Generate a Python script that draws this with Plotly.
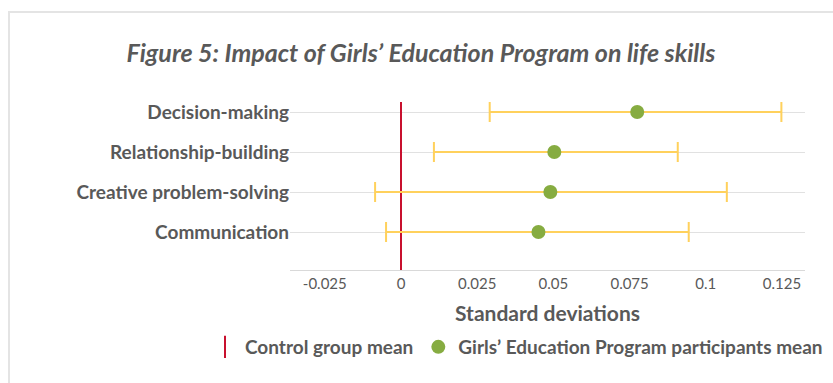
import plotly.graph_objects as go

skills = ["Communication", "Creative problem-solving", "Relationship-building", "Decision-making"]
means = [0.0451, 0.0490, 0.0503, 0.0775]
lower = [-0.0049, -0.0085, 0.0108, 0.0291]
upper = [0.0944, 0.1069, 0.0908, 0.1248]
control_mean = 0.0
tick_vals = [-0.025, 0, 0.025, 0.05, 0.075, 0.1, 0.125]
tick_text = ["-0.025", "0", "0.025", "0.05", "0.075", "0.1", "0.125"]

TEXT = "#595959"
FONT = "Lato"
GREEN = "#86AC41"
GOLD = "#FFD15C"
RED = "#C8102E"

fig = go.Figure()

ypos = list(range(len(skills)))
Y0, Y1 = -0.95, 3.25

# control group mean line
fig.add_trace(go.Scatter(
    x=[control_mean, control_mean], y=[Y0, Y1], mode="lines",
    line=dict(color=RED, width=2), showlegend=False, hoverinfo="skip"))

# participants with CI
fig.add_trace(go.Scatter(
    x=means, y=ypos, mode="markers",
    marker=dict(color=GREEN, size=14),
    error_x=dict(type="data", symmetric=False,
                 array=[u - m for u, m in zip(upper, means)],
                 arrayminus=[m - l for m, l in zip(means, lower)],
                 color=GOLD, thickness=2, width=10),
    showlegend=False))

# legend entries
fig.add_trace(go.Scatter(
    x=[None], y=[None], mode="markers", name="<b>Control group mean</b>",
    marker=dict(symbol="line-ns-open", size=20, line=dict(color=RED, width=2), color=RED)))
fig.add_trace(go.Scatter(
    x=[None], y=[None], mode="markers", name="<b>Girls\u2019 Education Program participants mean</b>",
    marker=dict(color=GREEN, size=14)))

L, R, T, B = 290, 805, 102, 270
W, H = 833, 383
pw, ph = R - L, B - T

fig.update_layout(
    width=W, height=H,
    margin=dict(l=L, r=W - R, t=T, b=H - B, pad=0),
    paper_bgcolor="white", plot_bgcolor="white",
    font=dict(family=FONT, color=TEXT, size=15),
    title=dict(text="<b><i>Figure 5: Impact of Girls\u2019 Education Program on life skills</i></b>",
               x=421 / W, xanchor="center", xref="container",
               y=1 - 53 / H, yanchor="middle", yref="container",
               font=dict(size=25, color=TEXT, family=FONT)),
    xaxis=dict(range=[(L - 401) / 3048, (R - 401) / 3048],
               tickvals=tick_vals, ticktext=tick_text,
               showgrid=False, zeroline=False,
               showline=True, linecolor="#d9d9d9", linewidth=1,
               ticks="", tickfont=dict(size=15, color=TEXT),
               title=dict(text="<b>Standard deviations</b>", font=dict(size=21, color=TEXT), standoff=15)),
    yaxis=dict(range=[Y0, Y1], tickvals=ypos, ticktext=["<b>%s</b>" % s for s in skills],
               showgrid=True, gridcolor="#e1e1e1", gridwidth=1, zeroline=False,
               showline=False, ticks="", tickfont=dict(size=19, color=TEXT)),
    legend=dict(orientation="h", x=(205 - L) / pw, xanchor="left",
                y=(B - 328) / ph, yanchor="top",
                font=dict(size=19, color=TEXT), itemwidth=30,
                bgcolor="rgba(0,0,0,0)", traceorder="normal"),
    showlegend=True,
)

# outer frame
fig.add_shape(type="rect", xref="paper", yref="paper",
              x0=(9 - L) / pw, x1=(W + 10 - L) / pw,
              y0=(B - H - 10) / ph, y1=(B - 12) / ph,
              line=dict(color="#e4e4e4", width=2), fillcolor="rgba(0,0,0,0)", layer="below")

fig.write_html("out.html")
